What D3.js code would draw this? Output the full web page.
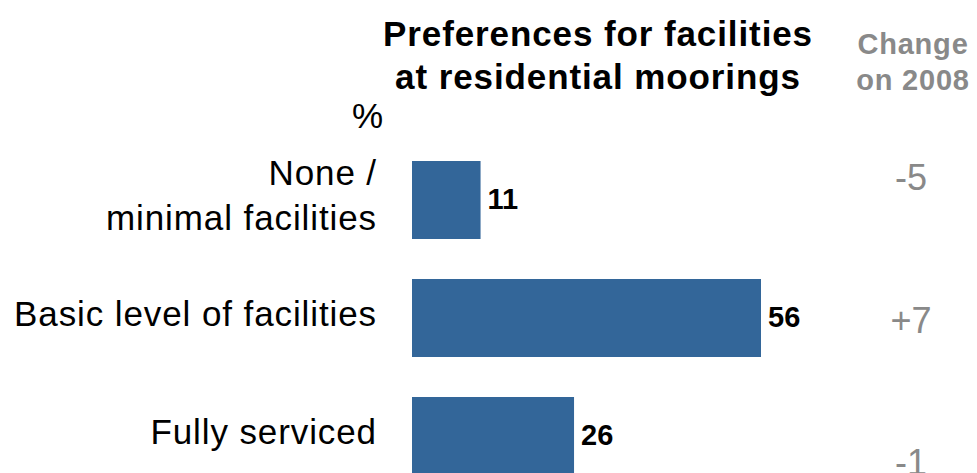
<!DOCTYPE html>
<html>
<head>
<meta charset="utf-8">
<script src="https://cdn.jsdelivr.net/npm/d3@7"></script>
<style>
  html, body { margin: 0; padding: 0; background: #fff; }
  svg { display: block; font-family: "Liberation Sans", Arial, sans-serif; }
</style>
</head>
<body>
<svg id="chart" width="977" height="473"></svg>
<script>
// ---- data ----
const categories = ["None / minimal facilities", "Basic level of facilities", "Fully serviced"];
const categoryLines = [["None /", "minimal facilities"], ["Basic level of facilities"], ["Fully serviced"]];
const values = [11, 56, 26];
const changes = ["-5", "+7", "-1"];
const titleLines = ["Preferences for facilities", "at residential moorings"];
const changeHeader = ["Change", "on 2008"];
const unitLabel = "%";

// ---- layout ----
const svg = d3.select("#chart");
const barColor = "#336699";
const grey = "#898989";

const x = d3.scaleLinear().domain([0, 56]).range([412, 761]);
const y = d3.scaleBand().domain(categories).range([161, 475]).paddingInner(0.339).paddingOuter(0);
const yChange = d3.scalePoint().domain(categories).range([190, 475]);

// title
svg.append("text")
  .attr("x", 597).attr("y", 46)
  .attr("text-anchor", "middle")
  .style("font-size", "35px").style("font-weight", "bold")
  .style("letter-spacing", "0.9px")
  .attr("fill", "#000")
  .selectAll("tspan").data(titleLines).join("tspan")
  .attr("x", 598).attr("dy", (d, i) => i === 0 ? 0 : 43)
  .text(d => d);

// change header
svg.append("text")
  .attr("x", 913).attr("y", 54)
  .attr("text-anchor", "middle")
  .style("font-size", "29px").style("font-weight", "bold")
  .style("letter-spacing", "0.8px")
  .attr("fill", grey)
  .selectAll("tspan").data(changeHeader).join("tspan")
  .attr("x", 913).attr("dy", (d, i) => i === 0 ? 0 : 36)
  .text(d => d);

// unit label
svg.append("text")
  .attr("x", 383).attr("y", 128)
  .attr("text-anchor", "end")
  .style("font-size", "35px")
  .attr("fill", "#000")
  .text(unitLabel);

// bars
svg.append("g").selectAll("rect").data(values).join("rect")
  .attr("x", x(0))
  .attr("y", (d, i) => y(categories[i]))
  .attr("width", d => x(d) - x(0))
  .attr("height", y.bandwidth())
  .attr("fill", barColor);

// value labels
svg.append("g").selectAll("text").data(values).join("text")
  .attr("x", d => x(d) + 7)
  .attr("y", (d, i) => y(categories[i]) + y.bandwidth() / 2 + 9)
  .style("font-size", "29px").style("font-weight", "bold")
  .attr("fill", "#000")
  .text(d => d);

// category labels
const catG = svg.append("g");
categoryLines.forEach((lines, i) => {
  const cy = y(categories[i]) + y.bandwidth() / 2;
  const lh = 45;
  const first = cy + 8 - (lines.length - 1) * lh / 2;
  const t = catG.append("text")
    .attr("text-anchor", "end")
    .style("font-size", "35px")
    .style("letter-spacing", "0.9px")
    .attr("fill", "#000");
  t.selectAll("tspan").data(lines).join("tspan")
    .attr("x", 377)
    .attr("y", (d, j) => first + j * lh)
    .text(d => d);
});

// change values
svg.append("g").selectAll("text").data(changes).join("text")
  .attr("x", 911)
  .attr("y", (d, i) => yChange(categories[i]))
  .attr("text-anchor", "middle")
  .style("font-size", "36px")
  .attr("fill", grey)
  .text(d => d);
</script>
</body>
</html>
